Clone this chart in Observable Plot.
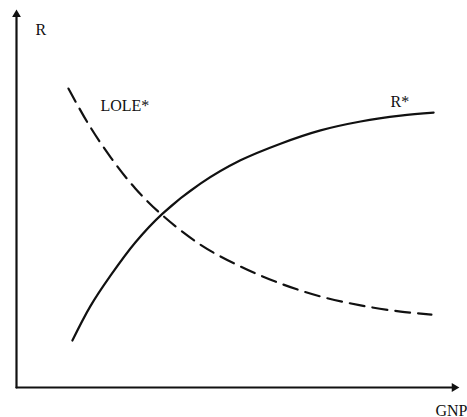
<!DOCTYPE html>
<html>
<head>
<meta charset="utf-8">
<script src="https://cdn.jsdelivr.net/npm/d3@7"></script>
<script src="https://cdn.jsdelivr.net/npm/@observablehq/plot@0.6"></script>
<style>
  html, body { margin: 0; padding: 0; background: #fff; }
  svg { display: block; }
</style>
</head>
<body>
<div id="chart"></div>
<script>
// R* curve (solid), in GNP / R units
const rStarX = [1.27, 1.68, 2.14, 2.70, 3.32, 4.18, 5.09, 6.00, 6.91, 7.82, 8.73, 9.48];
const rStarY = [1.27, 2.20, 3.03, 3.92, 4.70, 5.51, 6.14, 6.59, 6.95, 7.19, 7.35, 7.43];
// LOLE* curve (dashed)
const loleX = [1.18, 1.64, 2.14, 2.70, 3.32, 4.18, 5.09, 6.00, 6.91, 7.82, 8.73, 9.43];
const loleY = [8.08, 7.11, 6.22, 5.38, 4.65, 3.86, 3.27, 2.81, 2.46, 2.22, 2.05, 1.97];
// axis labels
const axisLabels = ["R", "GNP"];
const curveLabels = ["R*", "LOLE*"];
// axis extents
const xMax = 9.95, yMax = 10.08;

const rStar = rStarX.map((x, i) => ({x, y: rStarY[i]}));
const lole = loleX.map((x, i) => ({x, y: loleY[i]}));

const font = "Liberation Serif, Times New Roman, serif";

const plot = Plot.plot({
  width: 467,
  height: 417,
  marginLeft: 16,
  marginRight: 11,
  marginTop: 17,
  marginBottom: 30,
  x: {domain: [0, 10], axis: null},
  y: {domain: [0, 10], axis: null},
  style: {fontFamily: font, background: "#fff"},
  marks: [
    // axes
    Plot.line([{x: 0, y: 0}, {x: xMax, y: 0}], {x: "x", y: "y", stroke: "#111", strokeWidth: 2.2}),
    Plot.line([{x: 0, y: 0}, {x: 0, y: yMax}], {x: "x", y: "y", stroke: "#111", strokeWidth: 2.2}),
    Plot.dot([{x: xMax, y: 0}], {x: "x", y: "y", symbol: "triangle2", r: 4.2, fill: "#111", stroke: null, rotate: 90}),
    Plot.dot([{x: 0, y: yMax}], {x: "x", y: "y", symbol: "triangle2", r: 4.2, fill: "#111", stroke: null}),
    // curves
    Plot.line(rStar, {x: "x", y: "y", curve: "catmull-rom", stroke: "#111", strokeWidth: 2.2}),
    Plot.line(lole, {x: "x", y: "y", curve: "catmull-rom", stroke: "#111", strokeWidth: 2.2, strokeDasharray: "15,8"}),
    // axis labels
    Plot.text([axisLabels[0]], {text: d => d, frameAnchor: "top-left", dx: 19, dy: 6, textAnchor: "start", lineAnchor: "top", fontSize: 16, fill: "#111"}),
    Plot.text([axisLabels[1]], {text: d => d, frameAnchor: "bottom-right", dx: 11, dy: 28, textAnchor: "end", lineAnchor: "bottom", fontSize: 16, fill: "#111"}),
    // curve labels
    Plot.text([rStar[rStar.length - 1]], {x: "x", y: "y", text: () => curveLabels[0], dx: -43, dy: -6, textAnchor: "start", lineAnchor: "bottom", fontSize: 16, fill: "#111"}),
    Plot.text([lole[0]], {x: "x", y: "y", text: () => curveLabels[1], dx: 32, dy: 22, textAnchor: "start", lineAnchor: "bottom", fontSize: 16, fill: "#111"})
  ]
});
document.getElementById("chart").appendChild(plot);
</script>
</body>
</html>
